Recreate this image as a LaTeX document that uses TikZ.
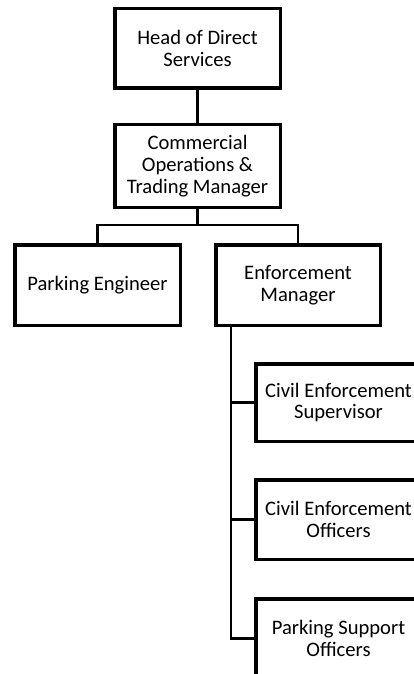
\documentclass[tikz,border=0pt]{standalone}
\usepackage{fontspec}
\setmainfont{Carlito}
\begin{document}
\begin{tikzpicture}[x=1pt,y=-1pt,
  box/.style={draw=black, line width=3.5pt, minimum width=165.5pt, align=center,
    inner sep=0pt, text=black, font=\fontsize{20.6}{21.7}\selectfont},
  conn/.style={draw=black, line width=2.5pt}]
\useasboundingbox (0,0) rectangle (414,674);
\clip (0,0) rectangle (414,674);
\node[box, minimum height=79.5pt] (head) at (197.5,48.5) {Head of Direct\\Services};
\node[box, minimum height=82.5pt] (comm) at (197.5,166) {Commercial\\Operations \&\\Trading Manager};
\node[box, minimum height=80.5pt] (pe) at (97.5,285) {Parking Engineer};
\node[box, minimum width=164.5pt, minimum height=80.5pt] (em) at (298,285) {Enforcement\\Manager};
\node[box, minimum height=77.5pt] (ces) at (338.5,402.5) {Civil Enforcement\\Supervisor};
\node[box, minimum height=79.5pt] (ceo) at (338.5,519.5) {Civil Enforcement\\Officers};
\node[box, minimum height=79.5pt] (pso) at (338.5,638.5) {Parking Support\\Officers};
% connectors
\coordinate (bus1) at (197.5,225);
\coordinate (emdrop) at (231,285);
\draw[conn] (head.south) -- (comm.north);
\draw[conn] (comm.south) -- (bus1);
\draw[conn] (pe.north) |- (bus1) -| (em.north);
\draw[conn] (emdrop |- em.south) -- (emdrop |- pso.west) -- (pso.west);
\draw[conn] (emdrop |- ces.west) -- (ces.west);
\draw[conn] (emdrop |- ceo.west) -- (ceo.west);
\end{tikzpicture}
\end{document}
